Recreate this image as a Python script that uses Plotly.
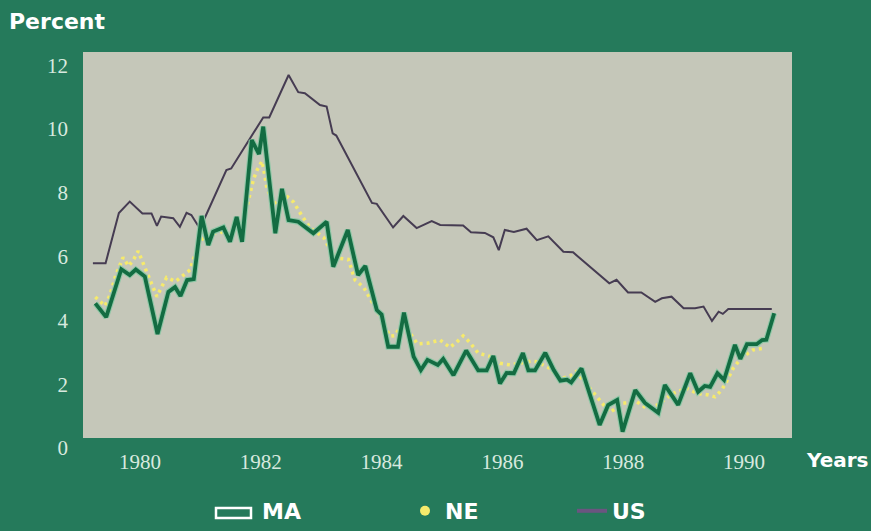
import plotly.graph_objects as go

# ---- data (years as decimal, values in percent) ----
us_years = [1979.22, 1979.43, 1979.65, 1979.83, 1980.04, 1980.19, 1980.28, 1980.35, 1980.55, 1980.66,
            1980.77, 1980.85, 1980.99, 1981.07, 1981.43, 1981.51, 1982.04, 1982.14, 1982.46, 1982.62,
            1982.73, 1982.98, 1983.09, 1983.19, 1983.25, 1983.84, 1983.92, 1984.19, 1984.36, 1984.58,
            1984.83, 1984.97, 1985.35, 1985.48, 1985.71, 1985.85, 1985.94, 1986.04, 1986.19, 1986.40,
            1986.57, 1986.76, 1987.01, 1987.17, 1987.77, 1987.89, 1988.08, 1988.30, 1988.53, 1988.64,
            1988.80, 1989.00, 1989.19, 1989.33, 1989.47, 1989.58, 1989.65, 1989.74, 1990.46]
us_values = [5.48, 5.48, 7.05, 7.41, 7.04, 7.04, 6.65, 6.94, 6.89, 6.62,
             7.06, 6.99, 6.57, 6.89, 8.40, 8.45, 10.05, 10.05, 11.38, 10.84,
             10.81, 10.44, 10.39, 9.55, 9.48, 7.37, 7.34, 6.60, 6.96, 6.58,
             6.80, 6.68, 6.66, 6.45, 6.43, 6.29, 5.89, 6.52, 6.46, 6.56,
             6.20, 6.32, 5.84, 5.82, 4.85, 4.96, 4.56, 4.56, 4.27, 4.38,
             4.43, 4.07, 4.07, 4.12, 3.67, 3.96, 3.89, 4.04, 4.04]

ma_years = [1979.26, 1979.44, 1979.69, 1979.83, 1979.93, 1980.08, 1980.29, 1980.47, 1980.58, 1980.67,
            1980.78, 1980.89, 1981.02, 1981.13, 1981.21, 1981.38, 1981.49, 1981.60, 1981.69, 1981.85,
            1981.97, 1982.04, 1982.24, 1982.35, 1982.46, 1982.62, 1982.87, 1983.09, 1983.20, 1983.44,
            1983.61, 1983.73, 1983.92, 1984.00, 1984.11, 1984.27, 1984.37, 1984.53, 1984.65, 1984.76,
            1984.93, 1985.02, 1985.19, 1985.40, 1985.60, 1985.74, 1985.85, 1985.96, 1986.07, 1986.19,
            1986.34, 1986.43, 1986.54, 1986.71, 1986.85, 1986.96, 1987.07, 1987.14, 1987.31, 1987.61,
            1987.75, 1987.90, 1987.99, 1988.20, 1988.36, 1988.58, 1988.69, 1988.91, 1989.11, 1989.24,
            1989.35, 1989.44, 1989.56, 1989.67, 1989.85, 1989.94, 1990.05, 1990.21, 1990.30, 1990.37,
            1990.50]
ma_values = [4.22, 3.79, 5.29, 5.11, 5.28, 5.06, 3.26, 4.58, 4.73, 4.45,
             4.95, 4.98, 6.96, 6.05, 6.47, 6.60, 6.15, 6.93, 6.15, 9.34,
             8.90, 9.76, 6.42, 7.81, 6.83, 6.78, 6.42, 6.78, 5.37, 6.52,
             5.11, 5.39, 4.01, 3.87, 2.86, 2.86, 3.93, 2.55, 2.13, 2.45,
             2.29, 2.48, 1.97, 2.74, 2.12, 2.12, 2.57, 1.71, 2.04, 2.03,
             2.66, 2.12, 2.12, 2.67, 2.13, 1.80, 1.83, 1.74, 2.18, 0.41,
             1.03, 1.19, 0.20, 1.50, 1.10, 0.79, 1.66, 1.04, 2.03, 1.45,
             1.63, 1.60, 2.03, 1.82, 2.92, 2.48, 2.94, 2.94, 3.07, 3.08,
             3.91]

ne_years = [1979.26, 1979.42, 1979.50, 1979.60, 1979.72, 1979.81, 1979.89, 1979.97, 1980.03, 1980.10,
            1980.22, 1980.28, 1980.36, 1980.44, 1980.59, 1980.72, 1980.83, 1980.88, 1981.01, 1981.13,
            1981.21, 1981.34, 1981.49, 1981.71, 1981.88, 1981.94, 1982.02, 1982.05, 1982.10, 1982.21,
            1982.30, 1982.44, 1982.54, 1982.68, 1982.82, 1983.04, 1983.15, 1983.31, 1983.45, 1983.56,
            1983.70, 1983.92, 1984.14, 1984.22, 1984.31, 1984.42, 1984.51, 1984.59, 1984.76, 1984.97,
            1985.13, 1985.24, 1985.35, 1985.46, 1985.60, 1985.79, 1985.96, 1986.13, 1986.48, 1986.57,
            1986.79, 1986.95, 1987.12, 1987.22, 1987.78, 1988.00, 1988.22, 1988.39, 1988.56, 1988.83,
            1989.05, 1989.22, 1989.41, 1989.52, 1989.63, 1989.71, 1989.82, 1989.93, 1990.07, 1990.15,
            1990.31]
ne_values = [4.42, 4.14, 4.47, 5.11, 5.66, 5.39, 5.58, 5.86, 5.58, 5.27,
             4.74, 4.43, 4.74, 5.03, 4.91, 5.11, 5.27, 5.58, 6.21, 6.36,
             6.42, 6.46, 6.31, 6.77, 8.12, 8.40, 8.68, 8.40, 7.84, 7.34,
             7.46, 7.56, 7.40, 6.97, 6.58, 6.29, 5.89, 5.63, 5.60, 4.95,
             4.73, 4.01, 3.19, 3.21, 3.49, 3.44, 3.20, 2.95, 2.97, 3.07,
             2.84, 3.00, 3.20, 3.00, 2.66, 2.56, 2.34, 2.29, 2.41, 2.39,
             2.18, 1.85, 1.94, 2.08, 0.80, 1.09, 1.14, 0.93, 1.03, 1.40,
             1.56, 1.40, 1.35, 1.29, 1.50, 1.76, 2.18, 2.45, 2.66, 2.76,
             2.81]

x_ticks = [1980, 1982, 1984, 1986, 1988, 1990]
x_tick_labels = ["1980", "1982", "1984", "1986", "1988", "1990"]
y_ticks = [0, 2, 4, 6, 8, 10, 12]
y_tick_labels = ["0", "2", "4", "6", "8", "10", "12"]

BG = "#257a5b"
PLOT_BG = "#c5c7b9"
MA_COLOR = "#136c42"
NE_COLOR = "#f6ea6c"
US_COLOR = "#463c52"
TICK_COLOR = "#d8e9df"

# plot-area geometry in pixels (for paper-coordinate placement of decorations)
L, R, T, B = 83, 792, 52, 438
PW, PH = R - L, B - T


def px(x):
    return (x - L) / PW


def py(y):
    return (B - y) / PH


fig = go.Figure()

fig.add_trace(go.Scatter(x=us_years, y=us_values, mode="lines", name="US",
                         line=dict(color=US_COLOR, width=2), showlegend=False))
fig.add_trace(go.Scatter(x=ne_years, y=ne_values, mode="lines", name="NE",
                         line=dict(color=NE_COLOR, width=3.5, dash="3px,4px"), showlegend=False))
fig.add_trace(go.Scatter(x=ma_years, y=ma_values, mode="lines", name="MA halo",
                         line=dict(color="#8fc7a6", width=6), showlegend=False, hoverinfo="skip"))
fig.add_trace(go.Scatter(x=ma_years, y=ma_values, mode="lines", name="MA",
                         line=dict(color=MA_COLOR, width=3.8), showlegend=False))

# legend entries
fig.add_trace(go.Scatter(x=[None], y=[None], mode="lines", name="MA",
                         line=dict(color="rgba(0,0,0,0)", width=1), legend="legend"))
fig.add_trace(go.Scatter(x=[None], y=[None], mode="markers", name="NE",
                         marker=dict(color=NE_COLOR, size=10), legend="legend2"))
fig.add_trace(go.Scatter(x=[None], y=[None], mode="lines", name="US",
                         line=dict(color="#6a5580", width=4), legend="legend3"))

legend_font = dict(family="DejaVu Sans", size=22, color="white", weight="bold")
common_legend = dict(orientation="h", yanchor="middle", y=py(511), xanchor="left",
                     bgcolor="rgba(0,0,0,0)", font=legend_font, itemwidth=30,
                     borderwidth=0)

fig.update_layout(
    width=871, height=531,
    paper_bgcolor=BG, plot_bgcolor=PLOT_BG,
    margin=dict(l=L, r=871 - R, t=T, b=531 - B, autoexpand=False),
    xaxis=dict(range=[1979.056, 1990.795], tickvals=x_ticks, ticktext=x_tick_labels,
               showgrid=False, zeroline=False, showline=False, ticks="",
               tickfont=dict(family="Liberation Serif", size=21, color=TICK_COLOR),
               ticklabelstandoff=9, automargin=False),
    yaxis=dict(range=[0, 12.1], tickvals=y_ticks, ticktext=y_tick_labels,
               showgrid=False, zeroline=False, showline=False, ticks="",
               tickfont=dict(family="Liberation Serif", size=21, color=TICK_COLOR),
               ticklabelstandoff=14, ticklabelshift=10, automargin=False),
    legend=dict(common_legend, x=px(222)),
    legend2=dict(common_legend, x=px(405)),
    legend3=dict(common_legend, x=px(572)),
    shapes=[
        dict(type="rect", xref="paper", yref="paper",
             x0=px(216), x1=px(251), y0=py(518), y1=py(508),
             line=dict(color="white", width=2.5), fillcolor="rgba(0,0,0,0)"),
    ],
    annotations=[
        dict(text="Percent", xref="paper", yref="paper", x=px(7), y=py(22),
             xanchor="left", yanchor="middle", showarrow=False,
             font=dict(family="DejaVu Sans", size=22, color="white", weight="bold")),
        dict(text="Years", xref="paper", yref="paper", x=px(804), y=py(460),
             xanchor="left", yanchor="middle", showarrow=False,
             font=dict(family="DejaVu Sans", size=20, color="white", weight="bold")),
    ],
)

fig.write_html("out.html", config={"displayModeBar": False},
               post_script="document.body.style.margin='0';")
